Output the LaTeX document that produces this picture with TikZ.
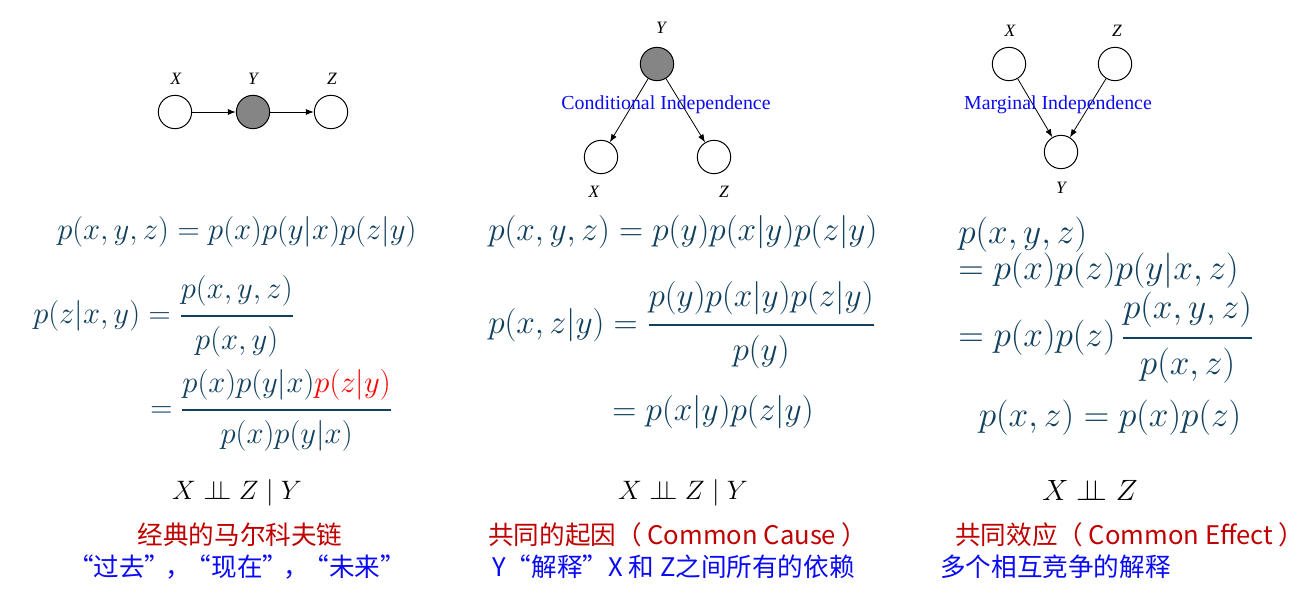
\RequirePackage{fix-cm}
\documentclass[tikz,border=0pt]{standalone}
\usepackage{amsmath}
\usepackage[no-math]{fontspec}
\setmainfont{Liberation Serif}
\newfontfamily\cjk{Noto Sans CJK SC}
\usetikzlibrary{arrows.meta}
\definecolor{eqc}{HTML}{10405E}
\definecolor{redc}{HTML}{C00000}
\definecolor{bluec}{HTML}{0A0AF5}
\newcommand{\indep}{\mathrel{\perp\!\!\!\perp}}
\newcommand{\oq}{\makebox[0.8em][r]{“}}
\newcommand{\cq}{\makebox[0.8em][l]{”}}
\newcommand{\fr}[2]{\genfrac{}{}{2.2pt}{0}{#1}{#2}}
\begin{document}
\begin{tikzpicture}[x=0.75pt,y=-0.75pt,
  gnode/.style={circle,draw=black,line width=0.75pt,minimum size=25pt,inner sep=0pt,fill=white},
  shaded/.style={fill=black!48},
  glab/.style={font=\fontsize{13}{15}\selectfont\itshape,inner sep=0pt},
  arr/.style={-{Latex[length=6pt,width=4.5pt]},line width=0.6pt},
  indlab/.style={text=bluec,font=\fontsize{14.9}{17}\selectfont,inner sep=0pt},
  eqA/.style={text=eqc,inner sep=0pt,font=\fontsize{23}{28}\selectfont},
  eqB/.style={text=eqc,inner sep=0pt,font=\fontsize{25}{30}\selectfont},
  eqC/.style={text=eqc,inner sep=0pt,font=\fontsize{26.5}{32}\selectfont},
  indA/.style={inner sep=0pt,font=\fontsize{20}{24}\selectfont},
  indB/.style={inner sep=0pt,font=\fontsize{22}{26}\selectfont},
  redtxt/.style={text=redc,inner sep=0pt,font=\cjk\fontsize{19.2}{23}\selectfont},
  bluetxt/.style={text=bluec,inner sep=0pt,font=\cjk\fontsize{19.2}{23}\selectfont}
]
\fill[white,use as bounding box] (0,0) rectangle (1310,605);

% ---- chain ----
\node[gnode] (a1) at (175,112) {};
\node[gnode,shaded] (a2) at (253,112) {};
\node[gnode] (a3) at (331,112) {};
\node[glab] (la1) at (176,79) {X};
\node[glab] (la2) at (253,79) {Y};
\node[glab] (la3) at (332,79) {Z};
\draw[arr] (a1) -- (a2);
\draw[arr] (a2) -- (a3);

% ---- common cause ----
\node[gnode,shaded] (b2) at (657,64) {};
\node[gnode] (b1) at (601,157) {};
\node[gnode] (b3) at (714,157) {};
\node[glab] (lb2) at (661,28) {Y};
\node[glab] (lb1) at (594,192) {X};
\node[glab] (lb3) at (724,192) {Z};
\draw[arr] (b2) -- (b1);
\draw[arr] (b2) -- (b3);
\node[indlab] (ci) at (666,105) {Conditional Independence};

% ---- common effect ----
\node[gnode] (c1) at (1009,64) {};
\node[gnode] (c3) at (1115,64) {};
\node[gnode] (c2) at (1061,152) {};
\node[glab] (lc1) at (1010,31) {X};
\node[glab] (lc3) at (1117,31) {Z};
\node[glab] (lc2) at (1061,188) {Y};
\draw[arr] (c1) -- (c2);
\draw[arr] (c3) -- (c2);
\node[indlab] (mi) at (1058,105) {Marginal Independence};

% ---- equations column 1 ----
\node[eqA,anchor=west] (e11) at (57,232) {$p(x,y,z)=p(x)p(y|x)p(z|y)$};
\node[eqA,anchor=west] (e12) at (33,316) {$p(z|x,y)=\fr{p(x,y,z)}{p(x,y)}$};
\node[eqA,anchor=west] (e13) at (150,410) {$=\fr{p(x)p(y|x)\textcolor{red}{p(z|y)}}{p(x)p(y|x)}$};

% ---- equations column 2 ----
\node[eqB,anchor=west] (e21) at (488,232) {$p(x,y,z)=p(y)p(x|y)p(z|y)$};
\node[eqB,anchor=west] (e22) at (488,325) {$p(x,z|y)=\fr{p(y)p(x|y)p(z|y)}{p(y)}$};
\node[eqB] (e23) at (713,412) {$=p(x|y)p(z|y)$};

% ---- equations column 3 ----
\node[eqC,anchor=west] (e31) at (958,235) {$p(x,y,z)$};
\node[eqC,anchor=west] (e32) at (958,271) {$=p(x)p(z)p(y|x,z)$};
\node[eqC,anchor=west] (e33) at (958,338) {$=p(x)p(z)\,\fr{p(x,y,z)}{p(x,z)}$};
\node[eqC] (e34) at (1110,418) {$p(x,z)=p(x)p(z)$};

% ---- independence statements ----
\node[indA] (i1) at (237,493) {$X\indep Z\mid Y$};
\node[indA] (i2) at (683,493) {$X\indep Z\mid Y$};
\node[indB] (i3) at (1090,490) {$X\indep Z$};

% ---- captions ----
\node[redtxt] (r1) at (240,535) {经典的马尔科夫链};
\node[bluetxt] (u1) at (237,567) {\oq 过去\cq，\oq 现在\cq，\oq 未来\cq};
\node[redtxt,anchor=west] (r2) at (488,535) {共同的起因（ Common Cause ）};
\node[bluetxt,anchor=west] (u2) at (492,567) {Y\hspace{0.2em}\oq 解释\cq\hspace{0.2em}X 和 Z之间所有的依赖};
\node[redtxt,anchor=west] (r3) at (955,535) {共同效应（ Common Effect ）};
\node[bluetxt,anchor=west] (u3) at (940,567) {多个相互竞争的解释};
\end{tikzpicture}
\end{document}
